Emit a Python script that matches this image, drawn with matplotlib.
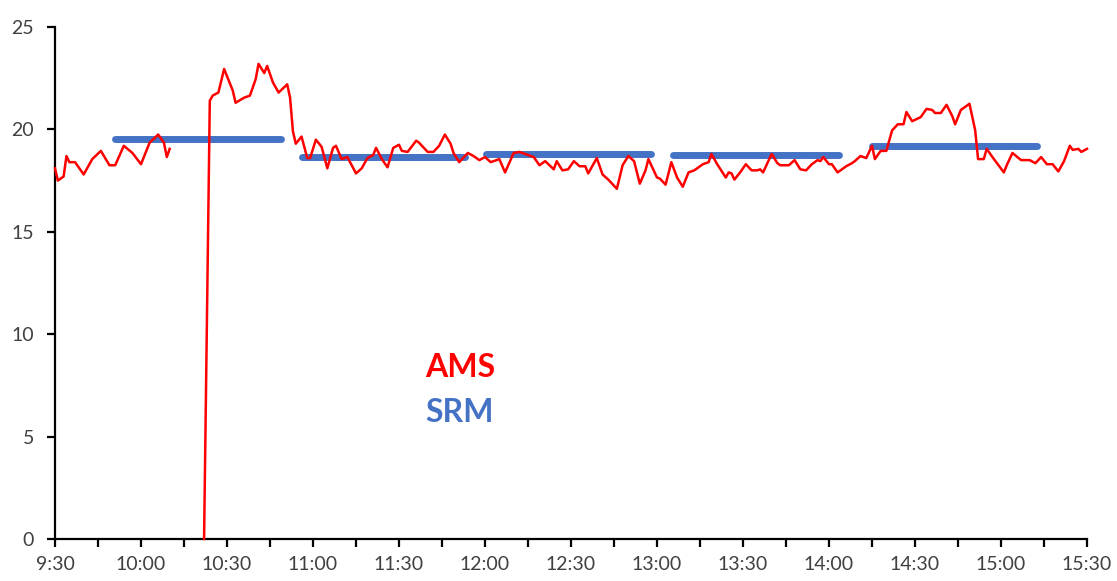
import numpy as np
import matplotlib.pyplot as plt
from matplotlib.ticker import MultipleLocator, FuncFormatter

# minutes after 9:30
ams_min = [0, 1, 3, 4, 5, 7, 10, 13, 16, 19, 21, 24, 27, 30, 33, 36, 38, 39, 40,
           46,
           52, 54, 55, 57, 59, 62, 63, 66, 68, 70, 71, 73, 74, 76, 78, 81, 82, 83, 84,
           86, 88, 89, 91, 93, 95, 97, 98, 100, 102, 105, 107, 109, 111, 112, 114,
           116, 118, 120, 121, 123, 126, 127, 130, 132, 134, 136, 138, 139, 141,
           144, 146, 148, 150, 152, 155, 157, 160, 162, 167, 169, 171, 174, 175,
           177, 179, 181, 183, 185, 186, 189, 191, 193, 196, 198, 200, 202, 204,
           206, 207, 210, 211, 213, 215, 217, 219, 221, 223, 226, 228, 229, 231,
           234, 235, 236, 237, 239, 241, 243, 245, 246, 247, 250, 252, 253, 256,
           258, 260, 262, 264, 266, 267, 268, 270, 271, 273, 276, 278, 279, 281,
           283, 285, 286, 288, 290, 292, 294, 296, 297, 299, 302, 304, 306, 307,
           309, 311, 313, 314, 316, 318, 319, 321, 322, 324, 325, 327, 331, 332,
           334, 337, 340, 342, 344, 346, 348, 350, 352, 354, 355, 357, 358, 360]
ams_val = [18.1, 17.5, 17.7, 18.7, 18.4, 18.4, 17.8, 18.55, 18.95, 18.25, 18.25,
           19.2, 18.85, 18.3, 19.35, 19.75, 19.35, 18.65, 19.05,
           np.nan,
           0.0, 21.4, 21.65, 21.8, 22.95, 21.9, 21.3, 21.55, 21.65, 22.45, 23.2,
           22.75, 23.1, 22.3, 21.8, 22.2, 21.55, 19.9, 19.3,
           19.65, 18.6, 18.6, 19.5, 19.15, 18.1, 19.1, 19.2, 18.55, 18.65, 17.85,
           18.1, 18.6, 18.75, 19.1, 18.55, 18.15, 19.1, 19.25, 18.95, 18.9, 19.45,
           19.35, 18.9, 18.9, 19.2, 19.75, 19.3, 18.85, 18.4, 18.85, 18.7, 18.5,
           18.65, 18.4, 18.55, 17.9, 18.85, 18.9, 18.65, 18.25, 18.45, 18.05,
           18.45, 18.0, 18.05, 18.45, 18.2, 18.2, 17.85, 18.6, 17.8, 17.55, 17.1,
           18.25, 18.7, 18.45, 17.35, 18.0, 18.55, 17.65, 17.6, 17.3, 18.4, 17.65,
           17.2, 17.9, 18.0, 18.3, 18.4, 18.8, 18.3, 17.65, 17.9, 17.85, 17.55,
           17.9, 18.3, 18.0, 18.0, 18.05, 17.9, 18.8, 18.35, 18.25, 18.25, 18.5,
           18.05, 18.0, 18.3, 18.5, 18.45, 18.65, 18.3, 18.3, 17.9, 18.2, 18.35,
           18.45, 18.7, 18.6, 19.2, 18.55, 18.95, 18.95, 19.95, 20.25, 20.25,
           20.85, 20.4, 20.6, 21.0, 20.95, 20.8, 20.8, 21.2, 20.65, 20.25, 20.95,
           21.15, 21.25, 19.95, 18.55, 18.55, 19.05, 18.65, 17.9, 18.25, 18.85,
           18.5, 18.5, 18.35, 18.65, 18.3, 18.3, 17.95, 18.45, 19.2, 19.0, 19.05,
           18.9, 19.05]

srm_start = [21, 86, 150.5, 215.5, 285]
srm_end = [79, 143, 208, 273.5, 342.5]
srm_val = [19.55, 18.65, 18.8, 18.75, 19.2]


def clock(m, pos=None):
    t = 570 + int(round(m))
    return f"{t // 60}:{t % 60:02d}"


fig = plt.figure(figsize=(11.17, 5.81), dpi=100)
ax = fig.add_axes([55 / 1117, 42 / 581, 1032 / 1117, 512 / 581])

for s, e, v in zip(srm_start, srm_end, srm_val):
    ax.plot([s, e], [v, v], color="#4472C4", lw=5, solid_capstyle="round", zorder=2)
ax.plot(ams_min, ams_val, color="#FF0000", lw=1.8, zorder=3, clip_on=False,
        solid_joinstyle="round")

ax.set_xlim(0, 360)
ax.set_ylim(0, 25)
ax.xaxis.set_major_locator(MultipleLocator(30))
ax.xaxis.set_minor_locator(MultipleLocator(15))
ax.xaxis.set_major_formatter(FuncFormatter(clock))
ax.yaxis.set_major_locator(MultipleLocator(5))

for side in ["top", "right"]:
    ax.spines[side].set_visible(False)
for side in ["left", "bottom"]:
    ax.spines[side].set_linewidth(1.6)
    ax.spines[side].set_color("black")

ax.tick_params(axis="both", which="both", direction="out", length=6, width=1.6,
               colors="black", labelcolor="#404040", labelsize=14)
ax.tick_params(axis="y", pad=9)
ax.tick_params(axis="x", pad=6)
for lab in ax.get_xticklabels() + ax.get_yticklabels():
    lab.set_fontfamily("Lato")

ax.text(0.3585, 0.334, "AMS", transform=ax.transAxes, color="#FF0000",
        fontsize=23, fontweight="bold", family="Lato", va="center", ha="left")
ax.text(0.3585, 0.248, "SRM", transform=ax.transAxes, color="#4472C4",
        fontsize=23, fontweight="bold", family="Lato", va="center", ha="left")

fig.savefig("out.png", dpi=100)
